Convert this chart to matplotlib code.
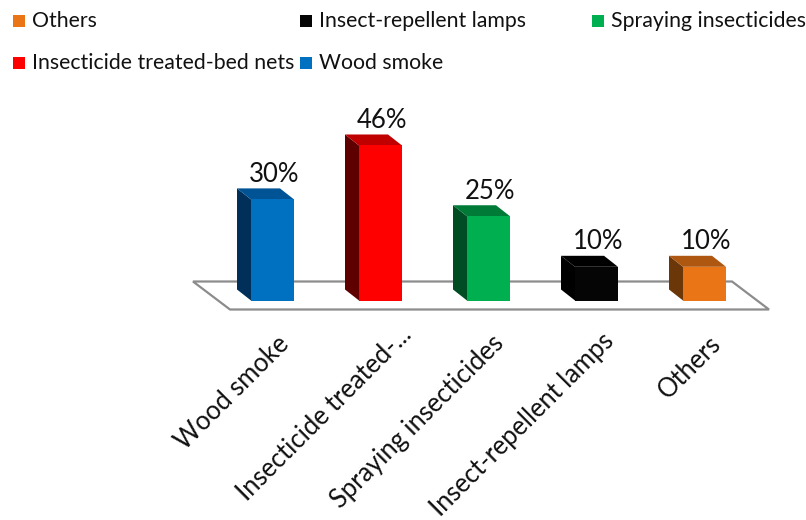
import matplotlib
matplotlib.use("Agg")
import matplotlib.pyplot as plt
from matplotlib.patches import Polygon, Rectangle
from matplotlib.transforms import ScaledTranslation

plt.rcParams['font.family'] = ['Lato', 'DejaVu Sans']

categories = ['Wood smoke', 'Insecticide treated-bed nets', 'Spraying insecticides',
              'Insect-repellent lamps', 'Others']
tick_labels = ['Wood smoke', 'Insecticide treated-...', 'Spraying insecticides',
               'Insect-repellent lamps', 'Others']
values = [30, 46, 25, 10, 10]

front_colors = ['#0070C0', '#FF0000', '#00B050', '#050505', '#E97516']
side_colors = ['#00305A', '#5E0000', '#004D23', '#000000', '#6B3608']
top_colors = ['#005496', '#C00000', '#007A37', '#000000', '#AE5710']

# legend order as in the picture
legend_rows = [['Others', 'Insect-repellent lamps', 'Spraying insecticides'],
               ['Insecticide treated-bed nets', 'Wood smoke']]
legend_x = [13, 300, 592]
legend_y = [21, 63]

W, H = 806, 520
px_x = 108.0    # pixels per category
px_y = 3.37     # pixels per percent
base_x = 272.5
base_y = 300.5

fig = plt.figure(figsize=(W / 100, H / 100), dpi=100, facecolor='white')
# axes runs from the floor corners up to near the legend
left, right, bottom, top = 193, 769, 310, 100
ax = fig.add_axes([left / W, 1 - bottom / H, (right - left) / W, (bottom - top) / H])
ax.set_xlim((left - base_x) / px_x, (right - base_x) / px_x)
ax.set_ylim((base_y - bottom) / px_y, (base_y - top) / px_y)
for s in ax.spines.values():
    s.set_visible(False)
ax.set_yticks([])
ax.patch.set_visible(False)

width = 43 / px_x
dx = -14 / px_x
dy = 11 / px_y

# floor
floor_back = (base_y - 281.5) / px_y
floor_front = (base_y - 309.5) / px_y
x0, x1 = ax.get_xlim()
floor = Polygon([(x0, floor_back), (x1 - 37 / px_x, floor_back), (x1, floor_front),
                 (x0 + 37 / px_x, floor_front)], closed=True, facecolor='white',
                edgecolor='#8C8C8C', linewidth=1.6, zorder=1, clip_on=False)
ax.add_patch(floor)

xs = list(range(len(values)))
ax.bar(xs, values, width=width, color=front_colors, zorder=4)
for x, v, sc, tc in zip(xs, values, side_colors, top_colors):
    l = x - width / 2
    r = x + width / 2
    ax.add_patch(Polygon([(l, 0), (l, v), (l + dx, v + dy), (l + dx, dy)],
                         closed=True, facecolor=sc, edgecolor='none', zorder=3, clip_on=False))
    ax.add_patch(Polygon([(l, v), (r, v), (r + dx, v + dy), (l + dx, v + dy)],
                         closed=True, facecolor=tc, edgecolor='none', zorder=3, clip_on=False))
    ax.annotate(f'{v}%', (x, v + dy), xytext=(1, 1), textcoords='offset points',
                ha='center', va='bottom', fontsize=18.5, color='#111111', clip_on=False)

ax.set_xticks(xs)
ax.set_xticklabels(tick_labels, rotation=45, ha='right', rotation_mode='anchor',
                   fontsize=18.4, color='#111111')
ax.tick_params(axis='x', length=0, pad=15)
# the truncated label sits further along its slant than the others
shift_x = [4, 18, 3, 5, 4]
shift_y = [0, 9, 0, 2, 0]
for lab, sx, sy in zip(ax.get_xticklabels(), shift_x, shift_y):
    lab.set_transform(lab.get_transform() + ScaledTranslation(sx / 100, sy / 100, fig.dpi_scale_trans))

# legend
color_of = dict(zip(categories, front_colors))
for row, y in zip(legend_rows, legend_y):
    for name, x in zip(row, legend_x):
        fig.add_artist(Rectangle((x / W, 1 - (y + 6) / H), 12 / W, 12 / H,
                                 transform=fig.transFigure, facecolor=color_of[name],
                                 edgecolor='none'))
        fig.text((x + 19) / W, 1 - y / H, name, fontsize=15.3, color='#111111',
                 ha='left', va='center')

fig.savefig('out.png', dpi=100)
